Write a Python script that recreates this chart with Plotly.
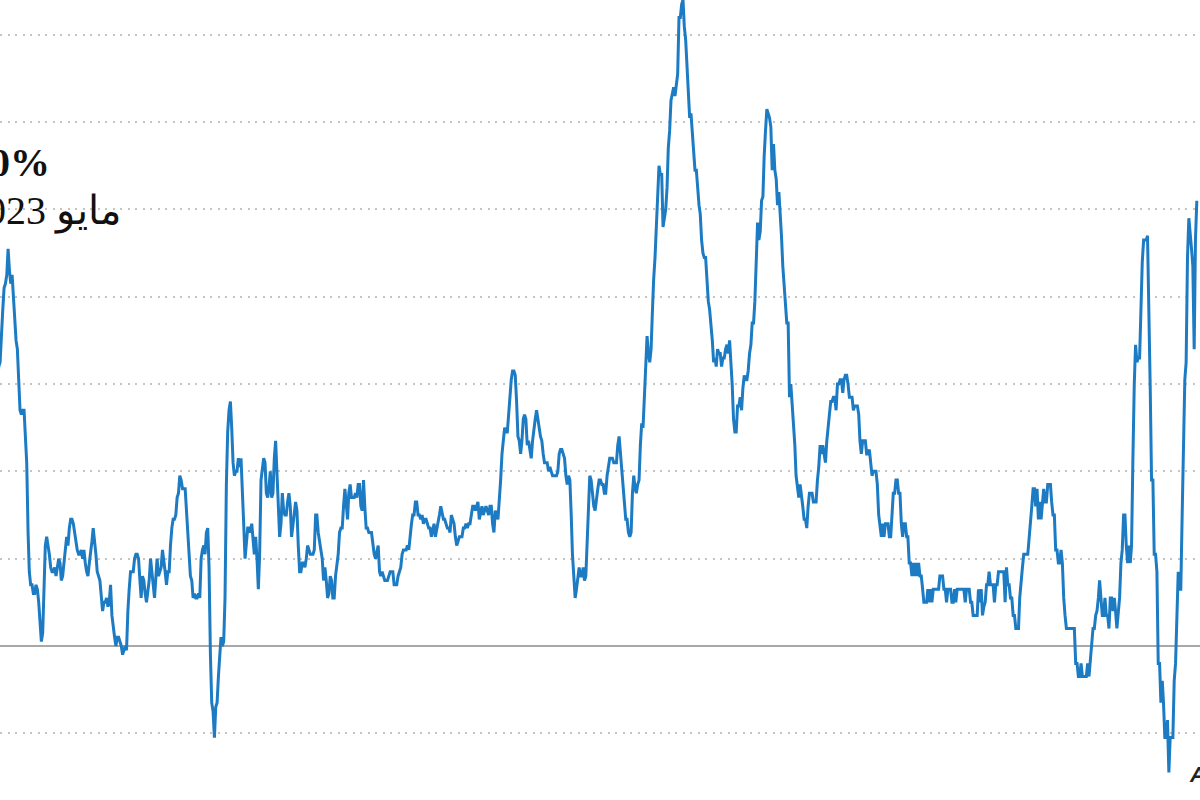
import plotly.graph_objects as go
import pandas as pd

# US CPI, year-on-year change (%), monthly, starting January 1948
start_month = "1948-01-01"

cpi_1940s = [
    10.2, 9.3, 6.8, 8.7, 9.1, 9.4, 9.8, 8.9, 6.5, 6.1, 4.8, 3.0,      # 1948
    1.3, 1.3, 1.7, 0.4, -0.4, -0.8, -2.1, -2.1, -2.1, -2.9, -1.7, -2.1,  # 1949
]
cpi_1950s = [
    -2.1, -1.3, -0.8, -1.3, -0.4, -0.4, 1.7, 2.1, 2.1, 3.8, 3.8, 5.9,
    8.1, 9.4, 9.3, 9.3, 9.3, 8.8, 7.5, 6.6, 6.6, 6.5, 6.9, 6.0,
    4.3, 2.3, 1.9, 2.3, 1.9, 2.3, 3.0, 3.0, 2.2, 1.9, 1.1, 0.8,
    0.4, 0.8, 1.1, 0.8, 1.1, 1.1, 0.4, 0.7, 0.7, 1.1, 0.7, 0.7,
    1.1, 1.5, 1.1, 0.8, 0.7, 0.4, 0.4, 0.0, -0.4, -0.7, -0.4, -0.7,
    -0.7, -0.7, -0.7, -0.4, -0.7, -0.7, -0.4, -0.4, 0.4, 0.4, 0.4, 0.4,
    0.4, 0.4, 0.4, 0.7, 1.1, 1.9, 2.2, 1.9, 1.9, 2.2, 2.2, 3.0,
    3.0, 3.3, 3.7, 3.7, 3.7, 3.3, 3.3, 3.6, 3.3, 2.9, 3.3, 2.9,
    3.6, 3.2, 3.6, 3.6, 3.2, 2.8, 2.4, 2.1, 2.1, 2.1, 2.1, 1.8,
    1.4, 1.1, 0.4, 0.4, 0.4, 0.7, 0.7, 1.1, 1.1, 1.4, 1.4, 1.8,
]
cpi_1960s = [
    1.0, 1.7, 1.7, 1.7, 1.7, 1.7, 1.4, 1.4, 1.0, 1.4, 1.4, 1.4,
    1.7, 1.4, 1.4, 1.0, 0.9, 0.7, 1.3, 1.0, 1.3, 0.7, 0.7, 0.7,
    0.7, 1.0, 1.0, 1.3, 1.3, 1.3, 1.0, 1.3, 1.3, 1.3, 1.3, 1.3,
    1.3, 1.0, 1.3, 1.0, 1.0, 1.3, 1.3, 1.3, 1.0, 1.3, 1.3, 1.6,
    1.6, 1.6, 1.3, 1.3, 1.3, 1.3, 1.3, 1.0, 1.3, 1.0, 1.3, 1.0,
    1.0, 1.0, 1.3, 1.6, 1.6, 1.9, 1.6, 1.9, 1.6, 1.9, 1.6, 1.9,
    1.9, 2.5, 2.5, 2.8, 2.8, 2.5, 2.8, 3.5, 3.5, 3.8, 3.8, 3.5,
    3.5, 2.8, 2.5, 2.5, 2.8, 2.8, 2.8, 2.5, 2.8, 2.5, 2.8, 3.0,
    3.7, 4.0, 4.0, 4.0, 3.9, 4.2, 4.5, 4.4, 4.4, 4.7, 4.7, 4.7,
    4.4, 4.7, 5.3, 5.5, 5.5, 5.5, 5.4, 5.7, 5.7, 5.7, 6.0, 6.2,
]
cpi_1970s = [
    6.2, 6.1, 5.8, 6.1, 6.1, 6.0, 6.0, 5.4, 5.7, 5.7, 5.6, 5.6,
    5.3, 5.0, 4.7, 4.2, 4.4, 4.6, 4.4, 4.6, 4.1, 3.8, 3.3, 3.3,
    3.3, 3.5, 3.5, 3.5, 3.2, 2.7, 2.9, 2.9, 3.2, 3.4, 3.7, 3.4,
    3.6, 3.9, 4.6, 5.1, 5.5, 6.0, 5.7, 7.4, 7.4, 7.8, 8.3, 8.7,
    9.4, 10.0, 10.4, 10.1, 10.7, 10.9, 11.5, 10.9, 11.9, 12.1, 12.2, 12.3,
    11.8, 11.2, 10.3, 10.2, 9.5, 9.3, 9.7, 8.6, 7.9, 7.4, 7.4, 6.9,
    6.7, 6.3, 6.1, 6.1, 6.2, 5.9, 5.4, 5.7, 5.5, 5.5, 4.9, 4.9,
    5.2, 6.0, 6.4, 7.0, 6.7, 6.9, 6.8, 6.6, 6.6, 6.4, 6.7, 6.7,
    6.8, 6.4, 6.6, 6.5, 7.0, 7.4, 7.7, 7.9, 8.3, 8.9, 8.9, 9.0,
    9.3, 9.9, 10.1, 10.5, 10.9, 10.9, 11.3, 11.8, 12.2, 12.1, 12.6, 13.3,
]
cpi_1980s = [
    13.9, 14.2, 14.8, 14.7, 14.4, 14.4, 13.1, 12.9, 12.6, 12.8, 12.6, 12.5,
    11.8, 11.4, 10.5, 10.0, 9.8, 9.6, 10.8, 10.8, 11.0, 10.1, 9.6, 8.9,
    8.4, 7.6, 6.8, 6.5, 6.7, 7.1, 6.4, 5.9, 5.0, 5.1, 4.6, 3.8,
    3.7, 3.5, 3.6, 3.9, 3.5, 2.6, 2.5, 2.6, 2.9, 2.9, 3.3, 3.8,
    4.2, 4.6, 4.8, 4.6, 4.2, 4.2, 4.2, 4.3, 4.3, 4.3, 4.1, 3.9,
    3.5, 3.5, 3.7, 3.7, 3.8, 3.8, 3.6, 3.3, 3.1, 3.2, 3.5, 3.8,
    3.9, 3.1, 2.2, 1.6, 1.5, 1.8, 1.6, 1.6, 1.8, 1.5, 1.3, 1.1,
    1.5, 2.1, 3.0, 3.8, 3.9, 3.7, 3.9, 4.3, 4.4, 4.5, 4.5, 4.4,
    4.0, 3.9, 3.9, 3.9, 3.9, 4.0, 4.1, 4.0, 4.2, 4.2, 4.2, 4.4,
    4.7, 4.8, 5.0, 5.1, 5.4, 5.2, 5.0, 4.7, 4.3, 4.5, 4.7, 4.6,
]
cpi_1990s = [
    5.2, 5.3, 5.2, 4.7, 4.4, 4.7, 4.8, 5.6, 6.2, 6.3, 6.3, 6.1,
    5.7, 5.3, 4.9, 4.9, 5.0, 4.7, 4.4, 3.8, 3.4, 2.9, 3.0, 3.1,
    2.6, 2.8, 3.2, 3.2, 3.0, 3.1, 3.2, 3.1, 3.0, 3.2, 3.0, 2.9,
    3.3, 3.2, 3.1, 3.2, 3.2, 3.0, 2.8, 2.8, 2.7, 2.8, 2.7, 2.7,
    2.5, 2.5, 2.5, 2.4, 2.3, 2.5, 2.8, 2.9, 3.0, 2.6, 2.7, 2.7,
    2.8, 2.9, 2.9, 3.1, 3.2, 3.0, 2.8, 2.6, 2.5, 2.8, 2.6, 2.5,
    2.7, 2.7, 2.8, 2.9, 2.9, 2.8, 3.0, 2.9, 3.0, 3.0, 3.3, 3.3,
    3.0, 3.0, 2.8, 2.5, 2.2, 2.3, 2.2, 2.2, 2.2, 2.1, 1.8, 1.7,
    1.6, 1.4, 1.4, 1.4, 1.7, 1.7, 1.7, 1.6, 1.5, 1.5, 1.5, 1.6,
    1.7, 1.6, 1.7, 2.3, 2.1, 2.0, 2.1, 2.3, 2.6, 2.6, 2.6, 2.7,
]
cpi_2000s = [
    2.7, 3.2, 3.8, 3.1, 3.2, 3.7, 3.7, 3.4, 3.5, 3.4, 3.4, 3.4,
    3.7, 3.5, 2.9, 3.3, 3.6, 3.2, 2.7, 2.7, 2.6, 2.1, 1.9, 1.6,
    1.1, 1.1, 1.5, 1.6, 1.2, 1.1, 1.5, 1.8, 1.5, 2.0, 2.2, 2.4,
    2.6, 3.0, 3.0, 2.2, 2.1, 2.1, 2.1, 2.2, 2.3, 2.0, 1.8, 1.9,
    1.9, 1.7, 1.7, 2.3, 3.1, 3.3, 3.0, 2.7, 2.5, 3.2, 3.5, 3.3,
    3.0, 3.0, 3.1, 3.5, 2.8, 2.5, 3.2, 3.6, 4.7, 4.3, 3.5, 3.4,
    4.0, 3.6, 3.4, 3.5, 4.2, 4.3, 4.1, 3.8, 2.1, 1.3, 2.0, 2.5,
    2.1, 2.4, 2.8, 2.6, 2.7, 2.7, 2.4, 2.0, 2.8, 3.5, 4.3, 4.1,
    4.3, 4.0, 4.0, 3.9, 4.2, 5.0, 5.6, 5.4, 4.9, 3.7, 1.1, 0.1,
    0.0, 0.2, -0.4, -0.7, -1.3, -1.4, -2.1, -1.5, -1.3, -0.2, 1.8, 2.7,
]
cpi_2010s = [
    2.6, 2.1, 2.3, 2.2, 2.0, 1.1, 1.2, 1.1, 1.1, 1.2, 1.1, 1.5,
    1.6, 2.1, 2.7, 3.2, 3.6, 3.6, 3.6, 3.8, 3.9, 3.5, 3.4, 3.0,
    2.9, 2.9, 2.7, 2.3, 1.7, 1.7, 1.4, 1.7, 2.0, 2.2, 1.8, 1.7,
    1.6, 2.0, 1.5, 1.1, 1.4, 1.8, 2.0, 1.5, 1.2, 1.0, 1.2, 1.5,
    1.6, 1.1, 1.5, 2.0, 2.1, 2.1, 2.0, 1.7, 1.7, 1.7, 1.3, 0.8,
    -0.1, 0.0, -0.1, -0.2, 0.0, 0.1, 0.2, 0.2, 0.0, 0.2, 0.5, 0.7,
    1.4, 1.0, 0.9, 1.1, 1.0, 1.0, 0.8, 1.1, 1.5, 1.6, 1.7, 2.1,
    2.5, 2.7, 2.4, 2.2, 1.9, 1.6, 1.7, 1.9, 2.2, 2.0, 2.2, 2.1,
    2.1, 2.2, 2.4, 2.5, 2.8, 2.9, 2.9, 2.7, 2.3, 2.5, 2.2, 1.9,
    1.6, 1.5, 1.9, 2.0, 1.8, 1.6, 1.8, 1.7, 1.7, 1.8, 2.1, 2.3,
]
cpi_2020s = [
    2.5, 2.3, 1.5, 0.3, 0.1, 0.6, 1.0, 1.3, 1.4, 1.2, 1.2, 1.4,
    1.4, 1.7, 2.6, 4.2, 5.0, 5.4, 5.4, 5.3, 5.4, 6.2, 6.8, 7.0,
    7.5, 7.9, 8.5, 8.3, 8.6, 9.1, 8.5, 8.3, 8.2, 7.7, 7.1, 6.5,
    6.4, 6.0, 5.0, 4.9, 4.0,
]

values = (cpi_1940s + cpi_1950s + cpi_1960s + cpi_1970s + cpi_1980s
          + cpi_1990s + cpi_2000s + cpi_2010s + cpi_2020s)
dates = pd.date_range(start_month, periods=len(values), freq="MS")

label_value = "4.0%"
label_date = "مايو 2023"

fig = go.Figure()
fig.add_trace(go.Scatter(
    x=dates, y=values, mode="lines",
    line=dict(color="#1c7bc2", width=3),
    hoverinfo="skip",
))

W, H = 1200, 800

def px_x(p):
    return p / W

def px_y(p):
    return 1 - p / H

fig.update_layout(
    width=W, height=H,
    margin=dict(l=0, r=0, t=0, b=0),
    paper_bgcolor="white", plot_bgcolor="white",
    showlegend=False,
    xaxis=dict(
        type="date",
        range=["2022-12-03", "1947-10-20"],
        showgrid=False, zeroline=False, showticklabels=False,
        ticks="", showline=False,
    ),
    yaxis=dict(
        range=[-3.53, 14.80],
        tick0=0, dtick=2,
        showgrid=True, gridcolor="#c4c4c4", gridwidth=1.7,
        griddash="2px,5.5px",
        zeroline=True, zerolinecolor="#a8a8a8", zerolinewidth=1.6,
        showticklabels=False, ticks="", showline=False,
    ),
    annotations=[
        dict(xref="paper", yref="paper", x=px_x(52), y=px_y(162),
             xanchor="right", yanchor="middle", showarrow=False,
             text="<b>" + label_value + "</b>",
             font=dict(family="Liberation Serif", size=40, color="#111")),
        dict(xref="paper", yref="paper", x=px_x(123), y=px_y(211),
             xanchor="right", yanchor="middle", showarrow=False,
             text=label_date,
             font=dict(family="Liberation Serif, DejaVu Serif", size=40, color="#111")),
        dict(xref="paper", yref="paper", x=px_x(1187), y=px_y(774),
             xanchor="left", yanchor="middle", showarrow=False,
             text="<b><i>A</i></b>",
             font=dict(family="Liberation Sans", size=22, color="#222")),
    ],
)

fig.write_html("out.html", config={"displayModeBar": False},
               post_script="document.body.style.margin='0px';")
